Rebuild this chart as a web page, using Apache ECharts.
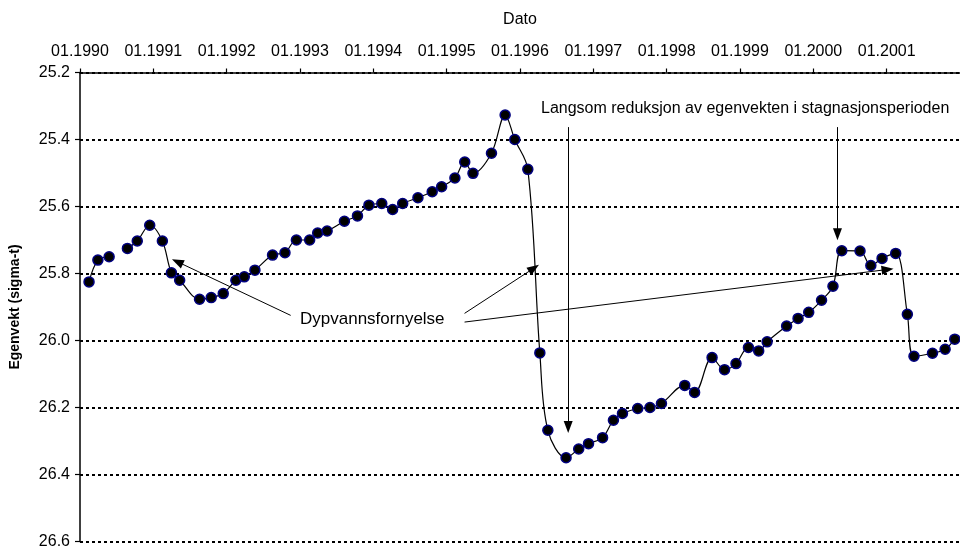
<!DOCTYPE html>
<html><head><meta charset="utf-8">
<script src="https://cdn.jsdelivr.net/npm/echarts@6/dist/echarts.min.js"></script>
<style>html,body{margin:0;padding:0;background:#fff}#c{width:960px;height:550px}</style>
</head><body><div id="c"></div>
<script>
// Sampling dates (YYYY-MM-DD)
const dates = [
 '1990-02-15','1990-03-31','1990-05-26','1990-07-15','1990-08-25','1990-10-13','1990-12-14',
 '1991-02-15','1991-04-01','1991-05-12','1991-08-19','1991-10-16','1991-12-15',
 '1992-02-16','1992-03-29','1992-05-21','1992-08-17','1992-10-18','1992-12-14',
 '1993-02-18','1993-03-30','1993-05-16','1993-08-10','1993-10-14','1993-12-10',
 '1994-02-12','1994-04-07','1994-05-27','1994-08-11','1994-10-21','1994-12-07',
 '1995-02-11','1995-04-01','1995-05-12','1995-08-12','1995-10-19','1995-12-06',
 '1996-02-09','1996-04-09','1996-05-19','1996-08-18','1996-10-20','1996-12-08',
 '1997-02-16','1997-04-11','1997-05-26','1997-08-10','1997-10-10','1997-12-06',
 '1998-04-01','1998-05-20','1998-08-15','1998-10-16','1998-12-12',
 '1999-02-12','1999-04-04','1999-05-16','1999-08-21','1999-10-17','1999-12-09',
 '2000-02-11','2000-04-08','2000-05-22','2000-08-21','2000-10-14','2000-12-09',
 '2001-02-15','2001-04-14','2001-05-17','2001-08-17','2001-10-19','2001-12-06'
];
// Egenvekt (sigma-t); null = missing sample (gap in line)
const sigmaT = [
 25.825,25.76,25.75,null,25.725,25.703,25.656,
 25.703,25.798,25.82,25.877,25.872,25.86,
 25.82,25.81,25.79,25.745,25.738,25.70,
 25.70,25.679,25.673,25.644,25.628,25.596,
 25.591,25.609,25.591,25.574,25.556,25.541,
 25.515,25.467,25.501,25.441,25.327,25.40,
 25.489,26.037,26.268,26.35,26.324,26.308,
 26.29,26.238,26.218,26.203,26.20,26.188,
 26.134,26.155,26.051,26.087,26.069,
 26.021,26.031,26.004,25.957,25.934,25.916,
 25.88,25.838,25.732,25.733,25.776,25.755,
 25.74,25.922,26.047,26.038,26.026,25.996
];
// x tick labels (one per year start)
const tickYears = [1990,1991,1992,1993,1994,1995,1996,1997,1998,1999,2000,2001];
const tickLabels = ['01.1990','01.1991','01.1992','01.1993','01.1994','01.1995','01.1996','01.1997','01.1998','01.1999','01.2000','01.2001'];
// annotation arrows in data units: [x1, y1, x2, y2] (decimal year, sigma-t); arrow head at (x2,y2)
const arrowsDyp = [
 [1992.873, 25.925, 1991.328, 25.765],
 [1995.244, 25.919, 1996.19, 25.784],
 [1995.244, 25.945, 2001.012, 25.788]
];
const arrowsLangsom = [
 [1996.657, 25.363, 1996.657, 26.258],
 [2000.329, 25.363, 2000.329, 25.683]
];

function decYear(s){
  const p = s.split('-').map(Number);
  const a = Date.UTC(p[0],0,1), b = Date.UTC(p[0]+1,0,1);
  return p[0] + (Date.UTC(p[0],p[1]-1,p[2]) - a) / (b - a);
}
const seriesData = dates.map((d,i) => [decYear(d), sigmaT[i] === null ? '-' : sigmaT[i]]);
const mlData = arrowsDyp.concat(arrowsLangsom).map(a => [{coord:[a[0],a[1]]},{coord:[a[2],a[3]]}]);

const FONT = 'Liberation Sans, Arial, sans-serif';
const chart = echarts.init(document.getElementById('c'), null, {renderer:'canvas'});
chart.setOption({
  animation:false,
  backgroundColor:'#fff',
  grid:{left:78, top:72.5, width:885.6, height:469},
  xAxis:{
    type:'value', position:'top', min:1990, max:2002, interval:1,
    name:'Dato', nameLocation:'middle', nameGap:45,
    nameTextStyle:{fontFamily:FONT, fontSize:16, color:'#000'},
    axisLine:{show:true, lineStyle:{color:'#000', width:1.5}},
    axisTick:{show:true, inside:false, length:4, lineStyle:{color:'#000', width:1.2}},
    axisLabel:{fontFamily:FONT, fontSize:16, color:'#000', margin:13, showMaxLabel:false,
      formatter:v => { const i = tickYears.indexOf(Math.round(v)); return i >= 0 ? tickLabels[i] : ''; }},
    splitLine:{show:false}
  },
  yAxis:{
    type:'value', inverse:true, min:25.2, max:26.6, interval:0.2,
    name:'Egenvekt (sigma-t)', nameLocation:'middle', nameGap:58, nameRotate:90,
    nameTextStyle:{fontFamily:FONT, fontSize:14, fontWeight:'bold', color:'#000'},
    axisLine:{show:true, lineStyle:{color:'#000', width:1.5}},
    axisTick:{show:true, inside:false, length:5, lineStyle:{color:'#000', width:1.2}},
    axisLabel:{fontFamily:FONT, fontSize:16, color:'#000', margin:10, formatter:v => v.toFixed(1)},
    splitLine:{show:true, lineStyle:{color:'#000', width:2, type:[3,3]}}
  },
  series:[{
    type:'line', data:seriesData, smooth:0.35, connectNulls:false,
    symbol:'circle', symbolSize:10,
    itemStyle:{color:'#000', borderColor:'#000080', borderWidth:1.5},
    lineStyle:{color:'#000', width:1.2},
    emphasis:{disabled:true},
    markLine:{
      silent:true, symbol:['none','triangle'], symbolSize:[9,12],
      label:{show:false},
      lineStyle:{color:'#000', width:1, type:'solid'},
      emphasis:{disabled:true},
      data: mlData
    }
  }],
  graphic:[
    {type:'text', left:300, top:311, style:{text:'Dypvannsfornyelse', font:'17px '+FONT, fill:'#000'}},
    {type:'text', left:541, top:101, style:{text:'Langsom reduksjon av egenvekten i stagnasjonsperioden', font:'16px '+FONT, fill:'#000'}}
  ]
});
</script></body></html>
